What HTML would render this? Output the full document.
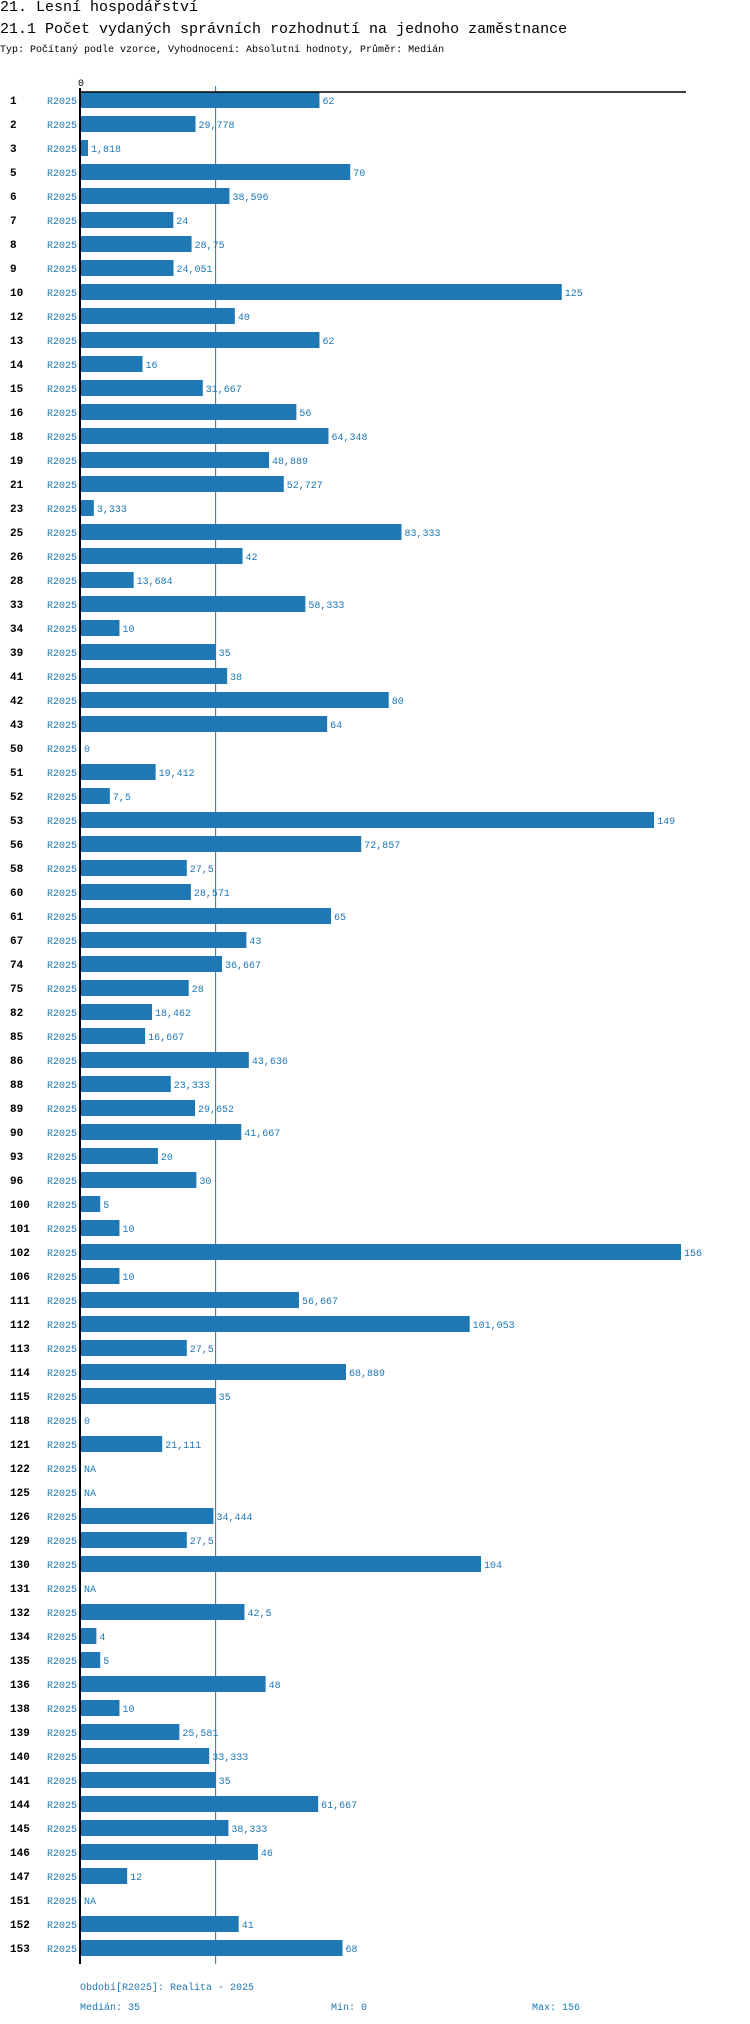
<!DOCTYPE html>
<html><head><meta charset="utf-8">
<style>
body{margin:0;background:#fff;width:750px;height:2024px;overflow:hidden;font-family:"Liberation Mono","DejaVu Sans Mono",monospace}
.t{position:absolute;left:0;white-space:nowrap;color:#000}
</style></head><body>
<div class="t" style="top:-1px;font-size:15px;">21. Lesní hospodářství</div>
<div class="t" style="top:21px;font-size:15px;">21.1 Počet vydaných správních rozhodnutí na jednoho zaměstnance</div>
<div class="t" style="top:45px;font-size:10px;">Typ: Počítaný podle vzorce, Vyhodnocení: Absolutní hodnoty, Průměr: Medián</div>
<svg id="chart" width="750" height="2024" style="position:absolute;left:0;top:0" xmlns="http://www.w3.org/2000/svg" font-family="Liberation Mono, DejaVu Sans Mono, monospace"></svg>
<script>
const categories=["1","2","3","5","6","7","8","9","10","12","13","14","15","16","18","19","21","23","25","26","28","33","34","39","41","42","43","50","51","52","53","56","58","60","61","67","74","75","82","85","86","88","89","90","93","96","100","101","102","106","111","112","113","114","115","118","121","122","125","126","129","130","131","132","134","135","136","138","139","140","141","144","145","146","147","151","152","153"];
const values=[62,29.778,1.818,70,38.596,24,28.75,24.051,125,40,62,16,31.667,56,64.348,48.889,52.727,3.333,83.333,42,13.684,58.333,10,35,38,80,64,0,19.412,7.5,149,72.857,27.5,28.571,65,43,36.667,28,18.462,16.667,43.636,23.333,29.652,41.667,20,30,5,10,156,10,56.667,101.053,27.5,68.889,35,0,21.111,null,null,34.444,27.5,104,null,42.5,4,5,48,10,25.581,33.333,35,61.667,38.333,46,12,null,41,68];
const period="R2025";
const median=35, minV=0, maxV=156;
const x0=81, pxPerUnit=600/156, rowTop=100, rowStep=24, barH=16;
const xs=v=>x0+v*pxPerUnit;
const ys=i=>rowTop+i*rowStep;
const svg=document.getElementById('chart');
const NS='http://www.w3.org/2000/svg';
function mk(tag,attrs,txt){const e=document.createElementNS(NS,tag);for(const k in attrs)e.setAttribute(k,attrs[k]);if(txt!==undefined)e.textContent=txt;svg.appendChild(e);return e;}
const blue='#1f77b4';
const lastY=ys(categories.length-1);
let e;
e=mk('line',{x1:xs(median),x2:xs(median),y1:86,y2:lastY+16,stroke:blue,'stroke-width':1});


categories.forEach((c,i)=>{
  const y=ys(i);const v=values[i];
  e=mk('text',{x:10,y:y+4,'font-size':11,'font-weight':'bold',fill:'#000'},c);
  
  
  e=mk('text',{x:77,y:y+4,'font-size':10,fill:blue,'text-anchor':'end'},period);
  
  
  if(v!==null&&v>0){
    e=mk('rect',{x:xs(0),y:y-barH/2,width:xs(v)-xs(0),height:barH,fill:blue});
    
    
  }
  const lbl=v===null?'NA':String(v).replace('.',',');
  e=mk('text',{x:(v===null?xs(0):xs(v))+3,y:y+4,'font-size':10,fill:blue},lbl);
  
  
});
e=mk('line',{x1:80,x2:686,y1:92,y2:92,stroke:'#000','stroke-width':1.5});


e=mk('line',{x1:80,x2:80,y1:88,y2:lastY+16,stroke:'#000','stroke-width':2});


e=mk('text',{x:xs(0),y:86,'font-size':10,fill:'#000','text-anchor':'middle'},'0');


e=mk('text',{x:80,y:lastY+42,'font-size':10,fill:blue},'Období['+period+']: Realita - 2025');


e=mk('text',{x:80,y:lastY+62,'font-size':10,fill:blue},'Medián: '+median);


e=mk('text',{x:331,y:lastY+62,'font-size':10,fill:blue},'Min: '+minV);


e=mk('text',{x:532,y:lastY+62,'font-size':10,fill:blue},'Max: '+maxV);


</script>
</body></html>
